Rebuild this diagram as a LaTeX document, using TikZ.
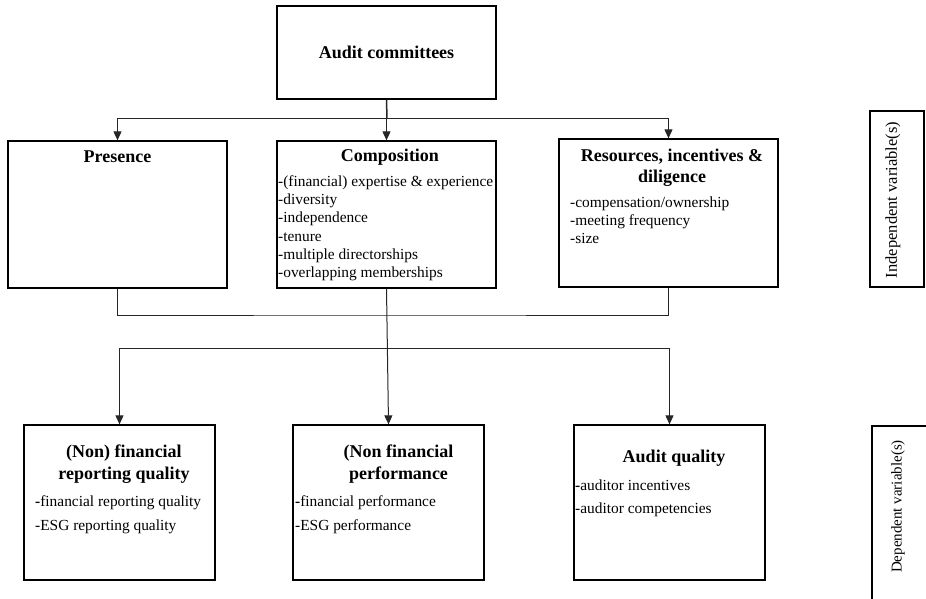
\documentclass[tikz,border=0pt]{standalone}
\usepackage{fontspec}
\setmainfont{Liberation Serif}
\usetikzlibrary{arrows.meta}
\tikzset{box/.style={draw,line width=1.3pt,inner sep=0pt},
ttl/.style={font=\fontsize{18}{21}\selectfont\bfseries,align=center,inner sep=0pt},
lst/.style={font=\fontsize{15.4}{18.2}\selectfont,align=left,anchor=north west,inner sep=0pt},
sidelab/.style={rotate=90,inner sep=0pt},
conn/.style={line width=1pt,draw=black!85},
arr/.style={conn,-{Triangle[length=9pt,width=8pt]}}}

\begin{document}
\begin{tikzpicture}[x=1pt,y=-1pt]
\useasboundingbox (0,0) rectangle (926,599);
% top
\node[box,ttl,minimum width=219pt,minimum height=93pt] (ac) at (386.5,52.5) {Audit committees};
% independent variables
\node[box,minimum width=219pt,minimum height=147pt] (pres) at (117.5,214.5) {};
\node[ttl] (pres-t) at (117.5,157) {Presence};
\node[box,minimum width=219pt,minimum height=147pt] (comp) at (386.5,214.5) {};
\node[ttl] (comp-t) at (390,157) {Composition};
\node[lst] (comp-l) at (278,173.5) {\strut-(financial) expertise \& experience\\-diversity\\-independence\\-tenure\\-multiple directorships\\-overlapping memberships};
\node[box,minimum width=219pt,minimum height=148pt] (res) at (668.5,213) {};
\node[ttl] (res-t) at (672,167.5) {Resources, incentives \&\\diligence};
\node[lst,font=\fontsize{15.4}{18}\selectfont] (res-l) at (570,194.9) {\strut-compensation/ownership\\-meeting frequency\\-size};
\node[box,minimum width=54pt,minimum height=176pt] (iv) at (897,199) {};
\node[sidelab,font=\fontsize{16.5}{19}\selectfont] (iv-t) at (893,200) {Independent variable(s)};
% dependent variables
\node[box,minimum width=191pt,minimum height=155pt] (nfrq) at (119.5,502.5) {};
\node[ttl,font=\fontsize{18}{22}\selectfont\bfseries] (nfrq-t) at (124,464) {(Non) financial\\reporting quality};
\node[lst,font=\fontsize{15.4}{24}\selectfont] (nfrq-l) at (35,489.7) {\strut\textbf{-}financial reporting quality\\-ESG reporting quality};
\node[box,minimum width=191pt,minimum height=155pt] (nfp) at (388.5,502.5) {};
\node[ttl,font=\fontsize{18}{22}\selectfont\bfseries] (nfp-t) at (398.5,464) {(Non financial\\performance};
\node[lst,font=\fontsize{15.4}{24}\selectfont] (nfp-l) at (295,489.7) {\strut\textbf{-}financial performance\\-ESG performance};
\node[box,minimum width=191pt,minimum height=155pt] (aq) at (669.5,502.5) {};
\node[ttl] (aq-t) at (674,458) {Audit quality};
\node[lst,font=\fontsize{15.4}{22.6}\selectfont] (aq-l) at (575,474.4) {\strut\textbf{-}auditor incentives\\-auditor competencies};
\node[box,minimum width=58pt,minimum height=186pt] (dv) at (901,519) {};
\node[sidelab,font=\fontsize{15}{18}\selectfont] (dv-t) at (898,506.5) {Dependent variable(s)};
% connectors
\coordinate (j1) at (387,119);
\coordinate (j2) at (387,315);
\coordinate (j3) at (387,348);
\draw[conn,line width=1.5pt] (ac.south) -- (j1);
\draw[arr] (j1) -| (pres.north);
\draw[arr] (j1) -| (comp.north);
\draw[arr] (j1) -| (res.north);
\draw[conn] (pres.south) |- (j2) -| (res.south);
\draw[arr] (comp.south) -- (nfp.north);
\draw[arr] (j3) -| (nfrq.north);
\draw[arr] (j3) -| (aq.north);
\end{tikzpicture}
\end{document}
